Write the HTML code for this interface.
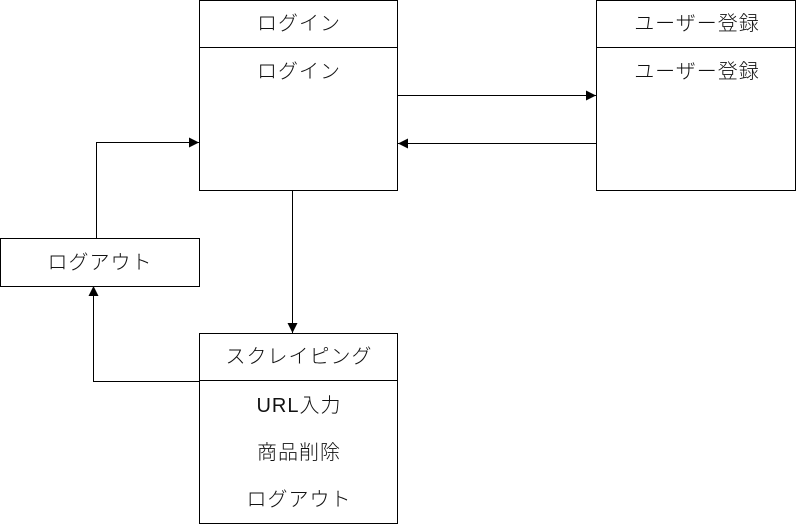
<!DOCTYPE html>
<html><head><meta charset="utf-8"><style>
html,body{margin:0;padding:0;background:#fff;}
svg{display:block;}
text{font-family:"Liberation Sans","Noto Sans CJK JP",sans-serif;font-size:20px;font-weight:300;fill:#111;text-anchor:middle;letter-spacing:1px;}
</style></head><body>
<svg width="797" height="526" viewBox="0 0 797 526" xmlns="http://www.w3.org/2000/svg">
<defs><marker id="a" markerWidth="10" markerHeight="10" refX="10" refY="5" orient="auto" markerUnits="userSpaceOnUse"><path d="M0,0 L10,5 L0,10 z" fill="#000"/></marker></defs>
<g fill="none" stroke="#000" stroke-width="1">
<rect x="199.5" y="0.5" width="198" height="190"/>
<line x1="199.5" y1="47.5" x2="397.5" y2="47.5"/>
<rect x="596.5" y="0.5" width="199" height="190"/>
<line x1="596.5" y1="47.5" x2="795.5" y2="47.5"/>
<rect x="0.5" y="238.5" width="199" height="48"/>
<rect x="199.5" y="333.5" width="198" height="190"/>
<line x1="199.5" y1="380.5" x2="397.5" y2="380.5"/>
<path d="M398,95.5 H596" marker-end="url(#a)"/>
<path d="M596,143.5 H398" marker-end="url(#a)"/>
<path d="M292.5,191 V333" marker-end="url(#a)"/>
<path d="M199,381.5 H93.5 V286" marker-end="url(#a)"/>
<path d="M96.5,238 V142.5 H199" marker-end="url(#a)"/>
</g>
<text x="299" y="30">ログイン</text>
<text x="299" y="78">ログイン</text>
<text x="697" y="30">ユーザー登録</text>
<text x="697" y="78">ユーザー登録</text>
<text x="100" y="269">ログアウト</text>
<text x="299" y="363">スクレイピング</text>
<text x="299" y="412">URL入力</text>
<text x="299" y="459">商品削除</text>
<text x="299" y="506">ログアウト</text>
</svg>
</body></html>
